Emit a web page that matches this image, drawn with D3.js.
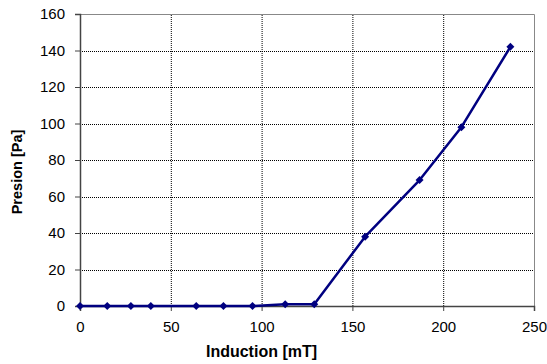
<!DOCTYPE html>
<html>
<head>
<meta charset="utf-8">
<script src="https://cdn.jsdelivr.net/npm/d3@7"></script>
<style>
  body { margin: 0; background: #fff; }
  text { font-family: Arial, "Liberation Sans", sans-serif; }
</style>
</head>
<body>
<svg id="svg" width="547" height="364"></svg>
<script>
const induction = [0, 15, 28, 39, 64, 79, 95, 113, 129, 157, 187, 210, 237];
const presion = [0, 0, 0, 0, 0, 0, 0, 1, 1, 38, 69, 98, 142];
const xTicks = [0, 50, 100, 150, 200, 250];
const yTicks = [0, 20, 40, 60, 80, 100, 120, 140, 160];

const margin = { left: 80, top: 14, right: 13, bottom: 58 };
const width = 547, height = 364;

let svg = d3.select("#svg");

const x = d3.scaleLinear().domain([0, 250]).range([margin.left, width - margin.right]);
const y = d3.scaleLinear().domain([0, 160]).range([height - margin.bottom, margin.top]);

// grid
svg.append("g")
  .selectAll("line")
  .data(xTicks.slice(1, -1))
  .join("line")
  .attr("x1", (d) => x(d) + 0.5).attr("x2", (d) => x(d) + 0.5)
  .attr("y1", y(0)).attr("y2", y(160))
  .attr("stroke", "#000").attr("stroke-width", 1)
  .attr("stroke-dasharray", "1,1");
svg.append("g")
  .selectAll("line")
  .data(yTicks.slice(1, -1))
  .join("line")
  .attr("x1", x(0)).attr("x2", x(250))
  .attr("y1", (d) => Math.round(y(d)) + 0.5).attr("y2", (d) => Math.round(y(d)) + 0.5)
  .attr("stroke", "#000").attr("stroke-width", 1)
  .attr("stroke-dasharray", "1,1");

// frame top/right
svg.append("path")
  .attr("d", `M${x(0)},${y(160) + 0.5}H${x(250) + 0.5}V${y(0)}`)
  .attr("fill", "none").attr("stroke", "#888").attr("stroke-width", 1);

// axes
const xAxis = svg.append("g")
  .attr("transform", `translate(0,${y(0)})`)
  .call(d3.axisBottom(x).tickValues(xTicks).tickSize(5).tickPadding(10));
const yAxis = svg.append("g")
  .attr("transform", `translate(${x(0)},0)`)
  .call(d3.axisLeft(y).tickValues(yTicks).tickSize(5).tickPadding(10));
[xAxis, yAxis].forEach((g) => {
  g.select(".domain").attr("stroke", "#444").attr("stroke-width", 1.5);
  g.selectAll(".tick line").attr("stroke", "#444");
  g.selectAll(".tick text").attr("font-size", 15).attr("fill", "#000")
    .style("font-family", "Arial, 'Liberation Sans', sans-serif");
});

// series
const pts = induction.map((d, i) => [d, presion[i]]);
svg.append("path")
  .datum(pts)
  .attr("fill", "none")
  .attr("stroke", "#000080")
  .attr("stroke-width", 2.5)
  .attr("stroke-linejoin", "round")
  .attr("d", d3.line().x((d) => x(d[0])).y((d) => y(d[1])));

svg.append("g")
  .selectAll("path")
  .data(pts)
  .join("path")
  .attr("transform", (d) => `translate(${x(d[0])},${y(d[1])})`)
  .attr("d", "M0,-4L4,0L0,4L-4,0Z")
  .attr("fill", "#000080");

// titles
svg.append("text")
  .attr("x", 261.5).attr("y", 357)
  .attr("text-anchor", "middle")
  .attr("font-size", 16).attr("font-weight", "bold")
  .text("Induction [mT]");
svg.append("text")
  .attr("transform", "translate(22,172) rotate(-90)")
  .attr("text-anchor", "middle")
  .attr("font-size", 14.5).attr("font-weight", "bold")
  .text("Presion [Pa]");
</script>
</body>
</html>
